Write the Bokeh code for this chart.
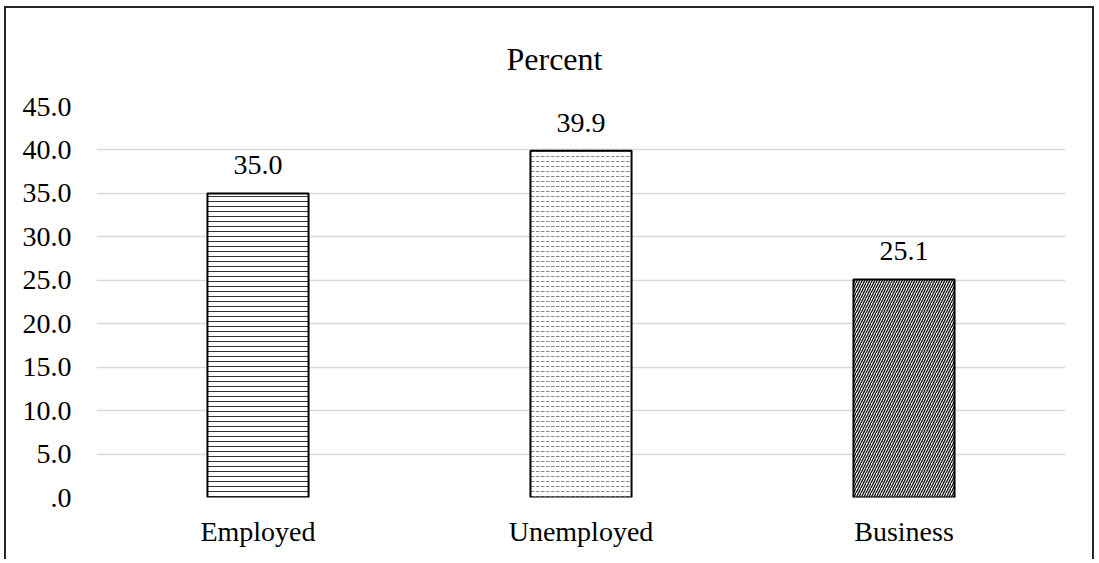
from bokeh.plotting import figure
from bokeh.models import FactorRange, Range1d, FixedTicker, ColumnDataSource
from bokeh.embed import file_html
from bokeh.resources import INLINE
from bokeh.core.properties import value

# ---- data ----
categories = ["Employed", "Unemployed", "Business"]
percents = [35.0, 39.9, 25.1]
y_ticks = [0, 5, 10, 15, 20, 25, 30, 35, 40, 45]
y_tick_labels = [".0", "5.0", "10.0", "15.0", "20.0", "25.0", "30.0", "35.0", "40.0", "45.0"]
hatches = ["horizontal_line", "horizontal_dash", "right_diagonal_line"]
hatch_colors = ["#333333", "#888888", "#1a1a1a"]
hatch_scales = [5, 5, 5]
hatch_weights = [1.0, 1.0, 1.4]

FONT = "Liberation Serif"

p = figure(
    x_range=FactorRange(*categories, range_padding=0),
    y_range=Range1d(0, 45),
    width=1090, height=553,
    output_backend="svg", toolbar_location=None,
    min_border_left=90, min_border_right=31,
    min_border_top=98, min_border_bottom=64,
    title="Percent",
)
p.styles = {
    "margin-left": "4px", "margin-top": "6px",
    "border-top": "2px solid #262626",
    "border-left": "2px solid #262626",
    "border-right": "2px solid #262626",
}

p.title.text_font = FONT
p.title.text_font_size = "32px"
p.title.text_font_style = "normal"
p.title.align = "left"
p.title.offset = 410
p.title.text_color = "#000000"
p.title.standoff = 60

src = ColumnDataSource(dict(
    cat=categories, val=percents, lab=[f"{v:.1f}" for v in percents],
))

for i, c in enumerate(categories):
    p.vbar(x=[c], top=[percents[i]], width=0.313,
           fill_color="white", line_color="black", line_width=2,
           hatch_pattern=hatches[i], hatch_color=hatch_colors[i],
           hatch_scale=hatch_scales[i], hatch_weight=hatch_weights[i])

p.text(x="cat", y="val", text="lab", source=src,
       text_font=value(FONT), text_font_size="28px", text_color="black",
       text_align="center", text_baseline="alphabetic", y_offset=-28)

p.yaxis.ticker = FixedTicker(ticks=y_ticks)
p.yaxis.major_label_overrides = {t: l for t, l in zip(y_ticks, y_tick_labels)}
for ax in (p.xaxis, p.yaxis):
    ax.axis_line_color = None
    ax.major_tick_line_color = None
    ax.minor_tick_line_color = None
    ax.major_tick_out = 0
    ax.major_tick_in = 0
    ax.major_label_text_font = FONT
    ax.major_label_text_font_size = "28px"
    ax.major_label_text_color = "black"
p.yaxis.major_label_standoff = 25
p.xaxis.major_label_standoff = 18
p.xaxis.group_text_font_size = "28px"

p.xgrid.grid_line_color = None
p.ygrid.grid_line_color = "#d9d9d9"
p.ygrid.grid_line_width = 1.3
p.outline_line_color = None
p.background_fill_color = "white"
p.border_fill_color = "white"

open("out.html", "w").write(file_html(p, INLINE))
